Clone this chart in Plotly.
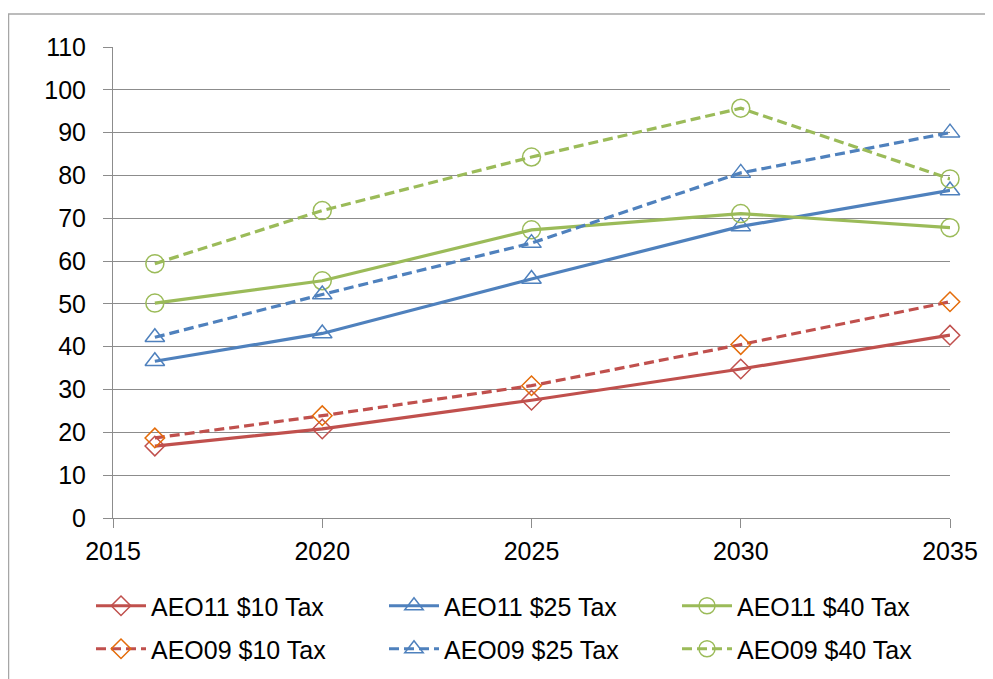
import plotly.graph_objects as go

years = [2016, 2020, 2025, 2030, 2035]

aeo11_10 = [16.8, 20.8, 27.5, 34.8, 42.7]
aeo11_25 = [36.6, 43.1, 55.8, 68.1, 76.5]
aeo11_40 = [50.2, 55.4, 67.3, 71.1, 67.8]
aeo09_10 = [18.7, 23.9, 30.9, 40.5, 50.5]
aeo09_25 = [42.2, 52.2, 64.2, 80.6, 90.0]
aeo09_40 = [59.4, 71.8, 84.3, 95.7, 79.2]

x_ticks = [2015, 2020, 2025, 2030, 2035]
y_ticks = list(range(0, 111, 10))

RED = "#C0504D"
BLUE = "#4F81BD"
GREEN = "#9BBB59"
ORANGE = "#E46C0A"

FONT = "Liberation Sans, Arial, sans-serif"

series = [
    ("AEO11 $10 Tax", aeo11_10, RED, RED, "diamond-open", "solid", "legend", 15),
    ("AEO11 $25 Tax", aeo11_25, BLUE, BLUE, "triangle-up-open", "solid", "legend", 17),
    ("AEO11 $40 Tax", aeo11_40, GREEN, GREEN, "circle-open", "solid", "legend", 18),
    ("AEO09 $10 Tax", aeo09_10, RED, ORANGE, "diamond-open", "10px,5px", "legend2", 15),
    ("AEO09 $25 Tax", aeo09_25, BLUE, BLUE, "triangle-up-open", "10px,5px", "legend2", 17),
    ("AEO09 $40 Tax", aeo09_40, GREEN, GREEN, "circle-open", "10px,5px", "legend2", 18),
]

fig = go.Figure()
for name, vals, lc, mc, sym, dash, leg, msize in series:
    fig.add_trace(go.Scatter(
        x=years, y=vals, name=name, mode="lines+markers",
        line=dict(color=lc, width=3.2, dash=dash),
        marker=dict(symbol=sym, size=msize, color=mc, line=dict(color=mc, width=1.5)),
        legend=leg, cliponaxis=False,
    ))

# page has an 8px body margin; figure coordinates = page coordinates - 8
OFF = 8
W, H = 993 - OFF, 679 - OFF
L, T = 113 - OFF, 47 - OFF
R = W - (950 - OFF)
B = H - (518 - OFF)
pw, ph = W - L - R, H - T - B

def px_x(p):
    return (p - OFF - L) / pw

def px_y(p):
    return (H - B - (p - OFF)) / ph

legend_common = dict(
    orientation="h", xanchor="left", yanchor="middle",
    font=dict(family=FONT, size=25, color="#000000"),
    bgcolor="rgba(0,0,0,0)", itemwidth=50,
    entrywidth=228, entrywidthmode="pixels",
    traceorder="normal",
)

fig.update_layout(
    width=W, height=H,
    margin=dict(l=L, r=R, t=T, b=B, autoexpand=False),
    paper_bgcolor="white", plot_bgcolor="white",
    font=dict(family=FONT, size=25, color="#000000"),
    showlegend=True,
    legend=dict(x=px_x(91), y=px_y(606), **legend_common),
    legend2=dict(x=px_x(91), y=px_y(649), **legend_common),
    xaxis=dict(
        range=[2015, 2035], tickvals=x_ticks, ticktext=[str(v) for v in x_ticks],
        showgrid=False, zeroline=False, showline=True, linecolor="#8c8c8c", linewidth=1,
        ticks="outside", ticklen=9, tickcolor="#8c8c8c", tickwidth=1,
        tickfont=dict(family=FONT, size=25, color="#000000"),
        ticklabelstandoff=2,
    ),
    yaxis=dict(
        range=[0, 110], tickvals=y_ticks,
        showgrid=True, gridcolor="#8c8c8c", gridwidth=1,
        zeroline=False, showline=True, linecolor="#8c8c8c", linewidth=1,
        ticks="outside", ticklen=9, tickcolor="#8c8c8c", tickwidth=1,
        tickfont=dict(family=FONT, size=25, color="#000000"),
        ticklabelstandoff=12,
    ),
    shapes=[dict(
        type="rect", xref="paper", yref="paper",
        x0=px_x(8.5), x1=px_x(1010), y0=px_y(700), y1=px_y(14),
        line=dict(color="#a6a6a6", width=1.5), fillcolor="rgba(0,0,0,0)",
        layer="below",
    )],
)

fig.write_html("out.html")
